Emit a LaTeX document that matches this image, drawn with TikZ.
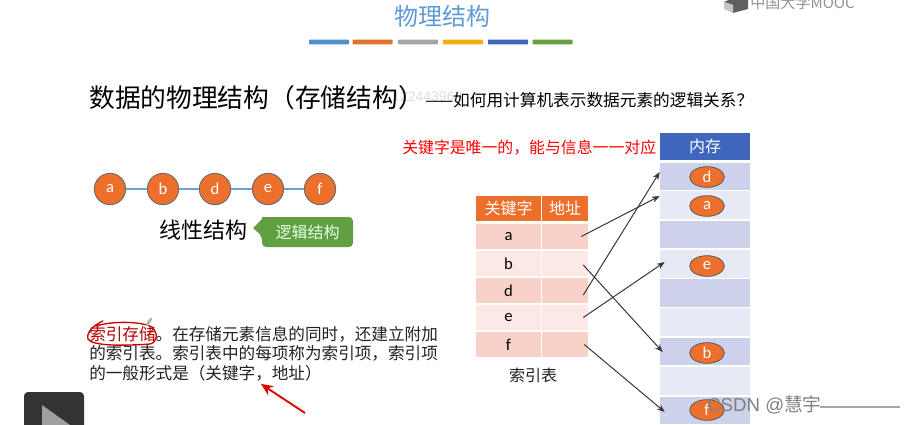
\documentclass[tikz,border=0pt]{standalone}
\usepackage{fontspec}
\setmainfont{Noto Sans CJK SC}
\newfontfamily\latinf{Carlito}
\newfontfamily\csdnf{Liberation Sans}
\usetikzlibrary{arrows.meta,shapes.geometric}
\definecolor{orangeA}{HTML}{EC702B}
\definecolor{headB}{HTML}{3F66BC}
\definecolor{rowA}{HTML}{CBD2E9}
\definecolor{rowB}{HTML}{E7E9F4}
\definecolor{cellA}{HTML}{F8D2C8}
\definecolor{cellB}{HTML}{FCE9E6}
\definecolor{inkA}{HTML}{222222}
\definecolor{greenA}{HTML}{60A042}
\definecolor{titleA}{HTML}{5F9BD5}
\definecolor{chainA}{HTML}{6FA0D8}
\newcommand{\fs}[1]{\fontsize{#1}{#1}\selectfont}
\tikzset{
  txt/.style={inner sep=0pt,anchor=west,text=inkA},
  cen/.style={inner sep=0pt,text=inkA},
  bar/.style={draw=none,minimum height=3.6pt,inner sep=0pt,minimum width=30pt,rounded corners=0.6pt},
  ball/.style={circle,draw=gray!85!black,line width=0.7pt,fill=orangeA,minimum size=23.5pt,inner sep=0pt,text=white,font=\latinf\fs{12.5}},
  oval/.style={ellipse,draw=gray!70!black,line width=0.6pt,fill=orangeA,minimum width=26pt,minimum height=15.5pt,inner sep=0pt,text=white,font=\latinf\fs{12.5}},
  cell/.style={inner sep=0pt,text=black,font=\latinf\fs{12.5}},
  mem/.style={inner sep=0pt,minimum width=67.5pt},
  arr/.style={-{Stealth[length=6pt,width=4.6pt]},line width=0.75pt,draw=black!78},
  chain/.style={draw=chainA,line width=1.3pt},
}
\begin{document}
\begin{tikzpicture}[x=0.75pt,y=-0.75pt]
\useasboundingbox (0,0) rectangle (915,425);
\clip (0,0) rectangle (915,425);
\fill[white] (0,0) rectangle (915,425);
% linear structure
\foreach \n/\x in {a/110,b/163,d/215,e/268,f/320}{ \node[ball] (n\n) at (\x,189) {\n}; }
\draw[chain] (na) -- (nb);
\draw[chain] (nb) -- (nd);
\draw[chain] (nd) -- (ne);
\draw[chain] (ne) -- (nf);
% title and bars
\node[cen,text=titleA,font=\fs{18}] (title) at (442.5,16) {物理结构};
\foreach \n/\x/\c in {1/329/4F8FCC,2/372.5/E2702F,3/418/A5A5A5,4/463/F2AE12,5/508/3F66BC,6/552.5/66A040}{
  \definecolor{barc}{HTML}{\c}
  \node[bar,fill=barc] (bar\n) at (\x,42) {};
}
% logo
\fill[gray!75!black] (724,2) -- (733,-2) -- (748,-2) -- (748,9) -- (733,13) -- (733,5) -- (724,2) -- cycle;
\fill[gray!45] (724,2) -- (733,5) -- (733,13) -- (724,9) -- cycle;
\node[txt,text=gray!85,font=\fs{11.3}] (mooc) at (750,2.5) {中国大学MOOC};
% heading
\node[txt,text=black!60,opacity=.22,font=\csdnf\fs{10.5}] (mark) at (392,97) {122443968};
\node[txt,text=black,font=\fs{19.3}] (head) at (89,98) {数据的物理结构（存储结构）};
\node[txt,text=black,font=\fs{12.5}] (q) at (425,100) {——如何用计算机表示数据元素的逻辑关系？};
% red note
\node[txt,text=red,font=\fs{11.9}] (note) at (402,148) {关键字是唯一的，能与信息一一对应};
\node[cen,text=black,font=\fs{16.5}] (lin) at (203,230) {线性结构};
\path[fill=greenA,rounded corners=3pt]
  (262,217) -- (353,217) -- (353,247) -- (262,247) -- (262,236) [sharp corners] -- (253,228) -- (262,219) -- cycle;
\node[cen,text=white!90!green,font=\fs{12}] (logic) at (307.5,232) {逻辑结构};
% paragraph
\node[txt,text=red!70!black,font=\fs{12.45}] (p0) at (89,334) {索引存储};
\node[txt,font=\fs{12.45}] (p1) at (155.4,334) {。在存储元素信息的同时，还建立附加};
\node[txt,font=\fs{12.45}] (p2) at (89,353.5) {的索引表。索引表中的每项称为索引项，索引项};
\node[txt,font=\fs{12.45}] (p3) at (89,373) {的一般形式是（关键字，地址）};
% annotation
\draw[red!80!black,line width=1pt,line cap=round] (103,321) .. controls (94,325) and (86,332) .. (88,339) .. controls (92,346) and (122,346) .. (150,344) .. controls (158,342) and (158,333) .. (152,327) .. controls (140,321) and (112,321) .. (96,326);
\draw[gray!60,line width=2pt,line cap=round] (147,325) -- (151,319);
\coordinate (tipS) at (305,413);
\coordinate (tipE) at (261,384);
\draw[-{Stealth[length=9pt,width=8pt]},red!90!black,line width=1.4pt] (tipS) -- (tipE);
% play button
\fill[black!80,rounded corners=3pt] (24,392) rectangle (84,432);
\fill[gray!75] (42,405) -- (70,425) -- (42,445) -- cycle;
% index table
\node[inner sep=0pt,minimum width=48.5pt,minimum height=18.5pt,fill=orangeA,text=white,font=\fs{12}] (hk) at (508.5,208.5) {关键字};
\node[inner sep=0pt,minimum width=34.5pt,minimum height=18.5pt,fill=orangeA,text=white,font=\fs{12}] (ha) at (565,208.5) {地址};
\foreach \n/\y/\c in {a/236.5/cellA,b/263.5/cellB,d/290.5/cellA,e/317.5/cellB,f/344.5/cellA}{
  \node[cell,minimum width=48.5pt,minimum height=19pt,fill=\c] (k\n) at (508.5,\y) {\n};
  \node[cell,minimum width=34.5pt,minimum height=19pt,fill=\c] (v\n) at (565,\y) {};
}
\node[cen,font=\fs{12}] (cap) at (533,375) {索引表};
% memory
\node[inner sep=0pt,minimum width=67.5pt,minimum height=20.5pt,fill=headB,text=white,font=\fs{12}] (mh) at (705,146.5) {内存};
\foreach \i/\y/\c in {1/176.5/rowA,2/205/rowB,3/234.5/rowA,4/264/rowB,5/293/rowA,6/322/rowB,7/351.5/rowA,8/381/rowB,9/410.5/rowA}{
  \node[mem,minimum height=20.6pt,fill=\c] (m\i) at (705,\y) {};
}
\node[oval] (od) at (707,177) {d};
\node[oval] (oa) at (707,206) {a};
\node[oval] (oe) at (707,266) {e};
\node[oval] (ob) at (707,353) {b};
\node[oval] (of) at (707,410) {f};
% arrows
\draw[arr] ([xshift=-5.25pt]va.east) -- ([yshift=6.75pt]m2.west);
\draw[arr] ([xshift=-3.75pt,yshift=-3.4pt]vd.east) -- ([yshift=3.4pt]m1.west);
\draw[arr] ([xshift=-3.75pt,yshift=-1.1pt]vb.east) -- ([xshift=2.25pt,yshift=-0.4pt]m7.west);
\draw[arr] ([xshift=-3.75pt]ve.east) -- ([xshift=3.75pt,yshift=1.5pt]m4.west);
\draw[arr] ([xshift=-3pt]vf.east) -- ([xshift=3.75pt,yshift=-1.1pt]m9.west);
% watermark
\node[txt,text=black!50,font=\csdnf\fs{14}] (csdn) at (707,405) {CSDN @\fontspec{Noto Sans CJK SC}慧宇};
\coordinate (wmA) at (820,407);
\coordinate (wmB) at (900,407);
\draw[gray!70,line width=0.8pt] (wmA) -- (wmB);
\end{tikzpicture}
\end{document}
